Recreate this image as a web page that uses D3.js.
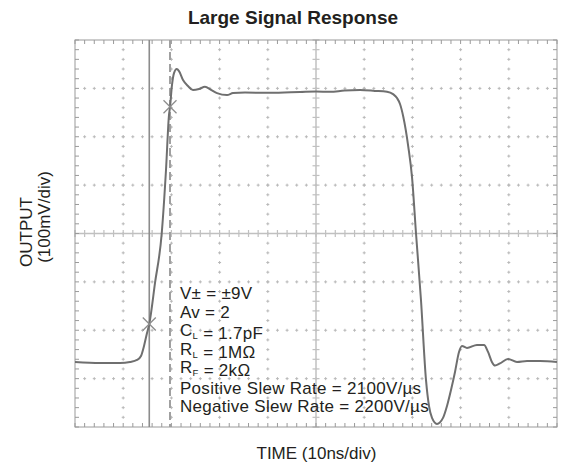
<!DOCTYPE html>
<html><head><meta charset="utf-8">
<script src="https://cdn.jsdelivr.net/npm/d3@7"></script>
<style>
body{margin:0;background:#fff;}
text{font-family:"Liberation Sans",Arial,sans-serif;fill:#231f20;}
</style></head><body>
<svg id="chart" width="562" height="467"></svg>
<script>
// ---- data (time in ns, output in mV) ----
const timeNs = [0,5.19,9.34,11.41,12.86,13.69,14.32,14.94,15.41,16.60,17.99,18.88,19.50,19.71,20.12,20.54,21.10,21.58,22.41,23.44,24.48,25.73,26.97,28.22,29.46,31.54,32.78,35.27,40.46,46.68,50.00,52.90,55.90,59.13,62.20,64.73,65.98,66.81,67.43,68.11,69.15,69.92,70.75,71.78,72.82,73.44,74.07,75.10,76.35,77.18,78.01,78.84,79.67,80.29,81.33,83.40,84.86,85.69,86.52,87.14,88.17,89.83,91.70,93.78,96.47,100];
const outputMv = [-265.5,-267.6,-267.6,-265.5,-261.4,-253.1,-232.4,-205.6,-187.0,-102.3,0,131.2,244.8,261.3,306.7,331.6,339.9,335.7,317.1,304.8,296.5,298.6,303.3,297.0,290.3,286.2,290.3,291.3,290.7,292.4,293.4,292.8,295.5,296.5,294.8,293.0,288.2,280.0,267.6,241.3,179.3,116.7,0,-137.4,-302.7,-356.4,-381.2,-393.6,-381.2,-356.4,-323.3,-286.2,-244.8,-232.4,-236.6,-230.4,-230.4,-244.8,-266.0,-273.0,-268.6,-259.3,-265.5,-263.4,-263.4,-265.5];
const cursorTimes = [15.41, 19.71];
const cursorLevels = [-187.0, 262.0];
const xDomain = [0, 100];
const yDomain = [-400, 400];
const xMajor = d3.range(0, 101, 10);
const yMajor = d3.range(-400, 401, 100);
const xMinor = d3.range(0, 100.01, 2);
const yMinor = d3.range(-400, 400.01, 20);
const titleText = "Large Signal Response";
const xLabel = "TIME (10ns/div)";
const yLabel1 = "OUTPUT";
const yLabel2 = "(100mV/div)";
const notes = [
  [["V± = ±9V",""]],
  [["Av = 2",""]],
  [["C","L"],[" = 1.7pF",""]],
  [["R","L"],[" = 1MΩ",""]],
  [["R","F"],[" = 2kΩ",""]],
  [["Positive Slew Rate = 2100V/µs",""]],
  [["Negative Slew Rate = 2200V/µs",""]]
];
const noteBaselines = [299, 317.6, 336.2, 354.8, 373, 393.5, 412];

const svg = d3.select("#chart");
const x = d3.scaleLinear().domain(xDomain).range([75, 557]);
const y = d3.scaleLinear().domain(yDomain).range([427, 40]);
const g = svg.append("g");

const gridCol = "#b8b8b8";
// dotted major gridlines (small crosses at minor positions)
xMajor.filter(v => v !== 0 && v !== 100 && v !== 50).forEach(v => {
  yMinor.filter(m => m !== -400 && m !== 400).forEach(m => {
    g.append("line").attr("x1", x(v)-1.5).attr("x2", x(v)+1.5).attr("y1", y(m)).attr("y2", y(m)).attr("stroke", gridCol).attr("stroke-width",1);
    g.append("line").attr("x1", x(v)).attr("x2", x(v)).attr("y1", y(m)-1.5).attr("y2", y(m)+1.5).attr("stroke", gridCol).attr("stroke-width",1);
  });
});
yMajor.filter(v => v !== -400 && v !== 400 && v !== 0).forEach(v => {
  xMinor.filter(m => m !== 0 && m !== 100).forEach(m => {
    g.append("line").attr("x1", x(m)-1.5).attr("x2", x(m)+1.5).attr("y1", y(v)).attr("y2", y(v)).attr("stroke", gridCol).attr("stroke-width",1);
    g.append("line").attr("x1", x(m)).attr("x2", x(m)).attr("y1", y(v)-1.5).attr("y2", y(v)+1.5).attr("stroke", gridCol).attr("stroke-width",1);
  });
});
// center axes
const axCol = "#c0c0c0";
g.append("line").attr("x1", x(0)).attr("x2", x(100)).attr("y1", y(0)).attr("y2", y(0)).attr("stroke", axCol).attr("stroke-width",1.5);
g.append("line").attr("x1", x(50)).attr("x2", x(50)).attr("y1", y(-400)).attr("y2", y(400)).attr("stroke", axCol).attr("stroke-width",1.5);
xMinor.forEach(m => {
  g.append("line").attr("x1", x(m)).attr("x2", x(m)).attr("y1", y(0)-3.5).attr("y2", y(0)+3.5).attr("stroke", axCol).attr("stroke-width",1.2);
});
yMinor.forEach(m => {
  g.append("line").attr("x1", x(50)-3.5).attr("x2", x(50)+3.5).attr("y1", y(m)).attr("y2", y(m)).attr("stroke", axCol).attr("stroke-width",1.2);
});
// border with inward ticks
const bCol = "#9a9a9a";
g.append("rect").attr("x", x(0)).attr("y", y(400)).attr("width", x(100)-x(0)).attr("height", y(-400)-y(400)).attr("fill","none").attr("stroke", bCol).attr("stroke-width",1);
xMinor.forEach(m => {
  g.append("line").attr("x1", x(m)).attr("x2", x(m)).attr("y1", y(400)).attr("y2", y(400)+4).attr("stroke", bCol);
  g.append("line").attr("x1", x(m)).attr("x2", x(m)).attr("y1", y(-400)).attr("y2", y(-400)-4).attr("stroke", bCol);
});
yMinor.forEach(m => {
  g.append("line").attr("x1", x(0)).attr("x2", x(0)+4).attr("y1", y(m)).attr("y2", y(m)).attr("stroke", bCol);
  g.append("line").attr("x1", x(100)).attr("x2", x(100)-4).attr("y1", y(m)).attr("y2", y(m)).attr("stroke", bCol);
});

// cursors
g.append("line").attr("x1", x(cursorTimes[0])).attr("x2", x(cursorTimes[0])).attr("y1", y(400)).attr("y2", y(-400)).attr("stroke", "#8c8c8c").attr("stroke-width",1.6);
g.append("line").attr("x1", x(cursorTimes[1])).attr("x2", x(cursorTimes[1])).attr("y1", y(400)).attr("y2", y(-400)).attr("stroke", "#a0a0a0").attr("stroke-width",2).attr("stroke-dasharray","8,4");

// signal
const line = d3.line().x((d,i) => x(timeNs[i])).y((d,i) => y(outputMv[i])).curve(d3.curveMonotoneX);
g.append("path").attr("d", line(outputMv)).attr("fill","none").attr("stroke","#6f6f6f").attr("stroke-width",2);

// cursor markers
cursorTimes.forEach((t,i) => {
  const cx = x(t), cy = y(cursorLevels[i]), s = 6.5;
  g.append("line").attr("x1", cx-s).attr("x2", cx+s).attr("y1", cy-s).attr("y2", cy+s).attr("stroke","#8c8c8c").attr("stroke-width",1.3);
  g.append("line").attr("x1", cx-s).attr("x2", cx+s).attr("y1", cy+s).attr("y2", cy-s).attr("stroke","#8c8c8c").attr("stroke-width",1.3);
});

// annotations
notes.forEach((parts, i) => {
  const t = svg.append("text").attr("x", 180).attr("y", noteBaselines[i])
    .style("font-size","17px").style("letter-spacing","0.28px");
  parts.forEach(([main, sub]) => {
    t.append("tspan").text(main);
    if (sub) {
      t.append("tspan").attr("dy", 3).style("font-size","9.5px").text(sub);
      t.append("tspan").attr("dy", -3).text("");
    }
  });
});

// titles & labels
svg.append("text").attr("x", 293).attr("y", 24).attr("text-anchor","middle").style("font-size","19px").style("font-weight","bold").text(titleText);
svg.append("text").attr("x", 316.5).attr("y", 459).attr("text-anchor","middle").style("font-size","17px").text(xLabel);
svg.append("text").attr("transform","translate(32,232) rotate(-90)").attr("text-anchor","middle").style("font-size","17px").text(yLabel1);
svg.append("text").attr("transform","translate(50,217) rotate(-90)").attr("text-anchor","middle").style("font-size","17px").text(yLabel2);
</script>
</body></html>
